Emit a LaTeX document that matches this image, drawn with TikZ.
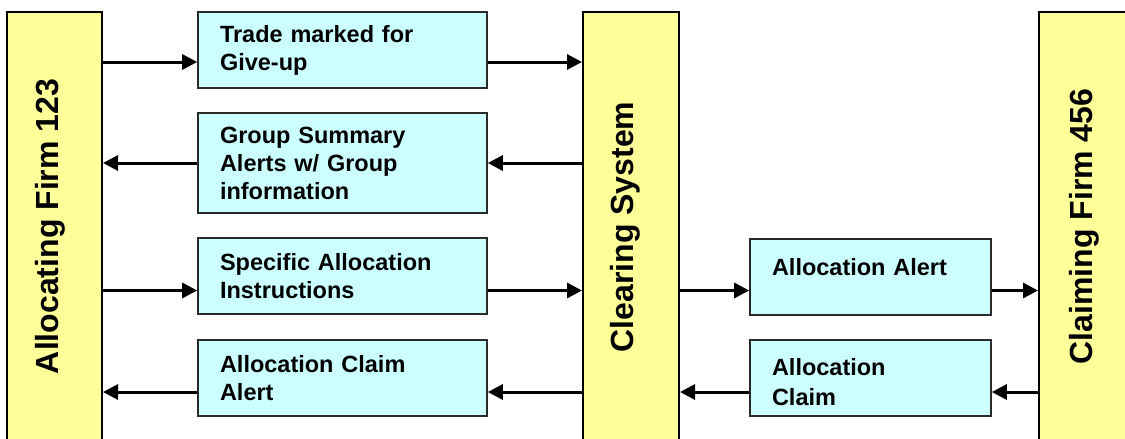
\documentclass[tikz,border=0pt]{standalone}
\usepackage{fontspec}
\setmainfont{Liberation Sans}
\usetikzlibrary{arrows.meta}

\definecolor{barfill}{HTML}{FFFF99}
\definecolor{boxfill}{HTML}{CCFFFF}
\definecolor{boxline}{HTML}{2A2A2A}

\begin{document}
\begin{tikzpicture}[x=1pt,y=1pt,
  partybar/.style={draw=black, line width=2pt, fill=barfill, inner sep=0pt,
    minimum height=430pt},
  barlabel/.style={rotate=90, anchor=base, inner sep=0pt,
    font=\bfseries\fontsize{32}{38}\selectfont},
  msgbox/.style={draw=boxline, line width=1.6pt, fill=boxfill, align=left,
    inner xsep=22pt, inner ysep=0pt, minimum height=76pt,
    font=\bfseries\fontsize{23.5}{28}\selectfont},
  leftmsg/.style={msgbox, text width=245pt},
  rightmsg/.style={msgbox, text width=197pt,
    font=\bfseries\fontsize{23.5}{30}\selectfont},
  arr/.style={line width=3pt, -{Triangle[length=15pt,width=15pt]}},
]
\useasboundingbox (0,0) rectangle (1125,-439);
\clip (0,0) rectangle (1125,-439);

% the three parties
\node[partybar, minimum width=95pt] (lbar) at (54.5,-227) {};
\node[partybar, minimum width=96pt] (mbar) at (631,-227) {};
\node[partybar, minimum width=96pt] (rbar) at (1087,-227) {};
\node[barlabel] (lbl1) at (58,-226.5) {Allocating Firm 123};
\node[barlabel] (lbl2) at (633,-227) {Clearing System};
\node[barlabel] (lbl3) at (1092,-226.5) {Claiming Firm 456};

% messages
\node[leftmsg] (b1) at (342.5,-50) {Trade marked for\\Give-up};
\node[leftmsg, minimum height=100pt] (b2) at (342.5,-163) {Group Summary\\Alerts w/ Group\\information};
\node[leftmsg] (b3) at (342.5,-276) {Specific Allocation\\Instructions};
\node[leftmsg] (b4) at (342.5,-378) {Allocation Claim\\Alert};
\node[rightmsg, text depth=21pt] (r1) at (870.5,-277) {Allocation Alert};
\node[rightmsg, text height=26pt] (r2) at (870.5,-378) {Allocation\\Claim};

% message flow rows
\coordinate (row1) at (0,-62);
\coordinate (row2) at (0,-163);
\coordinate (row3) at (0,-290.5);
\coordinate (row4) at (0,-392);

\draw[arr] (lbar.east |- row1) -- (b1.west |- row1);
\draw[arr] (b1.east |- row1) -- (mbar.west |- row1);

\draw[arr] (mbar.west |- row2) -- (b2.east |- row2);
\draw[arr] (b2.west |- row2) -- (lbar.east |- row2);

\draw[arr] (lbar.east |- row3) -- (b3.west |- row3);
\draw[arr] (b3.east |- row3) -- (mbar.west |- row3);
\draw[arr] (mbar.east |- row3) -- (r1.west |- row3);
\draw[arr] (r1.east |- row3) -- (rbar.west |- row3);

\draw[arr] (rbar.west |- row4) -- (r2.east |- row4);
\draw[arr] (r2.west |- row4) -- (mbar.east |- row4);
\draw[arr] (mbar.west |- row4) -- (b4.east |- row4);
\draw[arr] (b4.west |- row4) -- (lbar.east |- row4);
\end{tikzpicture}
\end{document}
